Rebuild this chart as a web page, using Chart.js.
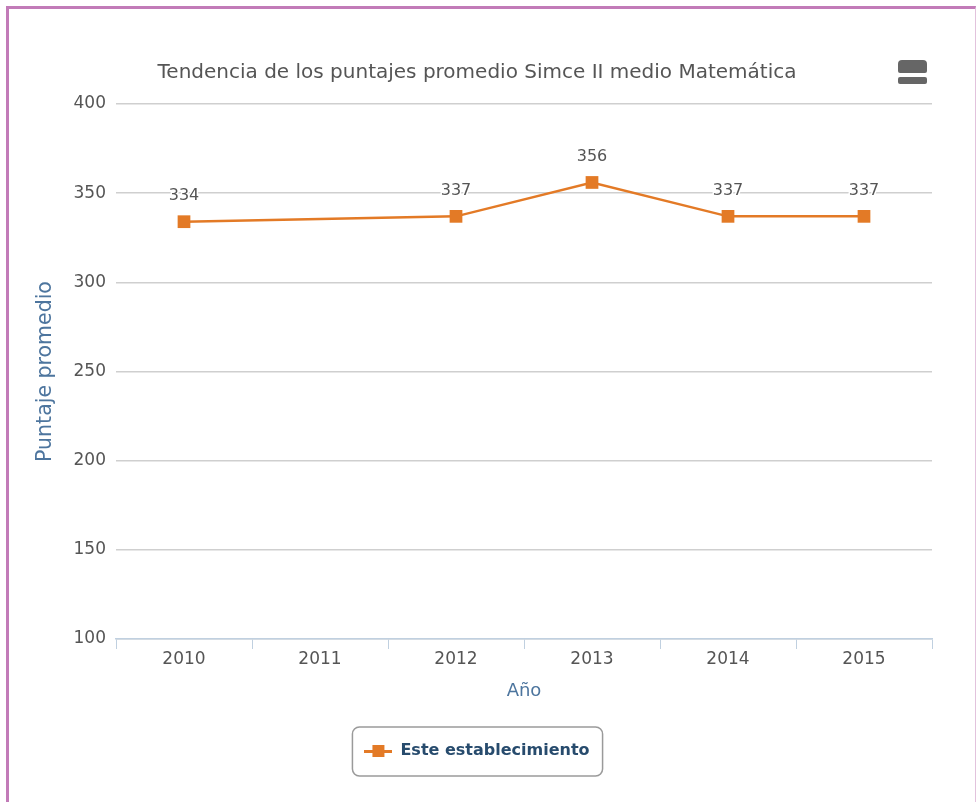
<!DOCTYPE html>
<html>
<head>
<meta charset="utf-8">
<script src="https://cdn.jsdelivr.net/npm/chart.js@4/dist/chart.umd.min.js"></script>
<style>
  html, body { margin: 0; padding: 0; background: #fff; }
  #wrap { position: relative; width: 976px; height: 802px; overflow: hidden; }
  #frame { position: absolute; left: 6px; top: 6px; right: 0; bottom: -10px;
           border-left: 3px solid #c27bb8; border-top: 3px solid #c27bb8;
           border-right: 1px solid #e2c3dd; pointer-events: none; }
  #menu1 { position: absolute; left: 898px; top: 60px; width: 29px; height: 13px;
           background: #666; border-radius: 4px 4px 2px 2px; }
  #menu2 { position: absolute; left: 898px; top: 77px; width: 29px; height: 7px;
           background: #666; border-radius: 2px; }
  canvas { position: absolute; left: 0; top: 0; }
</style>
</head>
<body>
<div id="wrap">
  <canvas id="chart" width="976" height="802"></canvas>
  <div id="frame"></div>
  <div id="menu1"></div>
  <div id="menu2"></div>
</div>
<script>
var years = ['2010', '2011', '2012', '2013', '2014', '2015'];
var puntajes = [334, null, 337, 356, 337, 337];
var serie_nombre = 'Este establecimiento';
var y_ticks = [100, 150, 200, 250, 300, 350, 400];

var naranja = '#e37a26';
var font_family = '"DejaVu Sans", Verdana, sans-serif';

// legend symbol: short line with a square in the middle
var legendIcon = document.createElement('canvas');
legendIcon.width = 28;
legendIcon.height = 14;
(function () {
  var c = legendIcon.getContext('2d');
  c.fillStyle = naranja;
  c.fillRect(0, 6, 28, 3);
  c.fillRect(8, 1, 12, 12);
})();

const valueLabels = {
  id: 'valueLabels',
  afterDatasetsDraw(chart) {
    const ctx = chart.ctx;
    const meta = chart.getDatasetMeta(0);
    ctx.save();
    ctx.font = '16px ' + font_family;
    ctx.textAlign = 'center';
    ctx.textBaseline = 'middle';
    ctx.lineJoin = 'round';
    meta.data.forEach(function (pt, i) {
      const v = puntajes[i];
      if (v === null) return;
      ctx.strokeStyle = '#fff';
      ctx.lineWidth = 3;
      ctx.strokeText(String(v), pt.x, pt.y - 26);
      ctx.fillStyle = '#555';
      ctx.fillText(String(v), pt.x, pt.y - 26);
    });
    ctx.restore();
  }
};

const legendBox = {
  id: 'legendBox',
  afterDraw(chart) {
    const lg = chart.legend;
    if (!lg || !lg.legendHitBoxes.length) return;
    const hb = lg.legendHitBoxes[0];
    const x = hb.left - 12, y = hb.top - 16, w = hb.width + 25, h = hb.height + 33;
    const ctx = chart.ctx;
    ctx.save();
    ctx.strokeStyle = '#9a9a9a';
    ctx.lineWidth = 1.5;
    ctx.beginPath();
    ctx.roundRect(x, y, w, h, 7);
    ctx.stroke();
    ctx.restore();
  }
};

const data = {
  labels: years,
  datasets: [{
    label: serie_nombre,
    data: puntajes,
    borderColor: naranja,
    backgroundColor: naranja,
    borderWidth: 2.5,
    pointStyle: 'rect',
    pointRadius: 9,
    pointHoverRadius: 9,
    pointBorderWidth: 0,
    spanGaps: true,
    tension: 0
  }]
};

const config = {
  type: 'line',
  data: data,
  options: {
    responsive: false,
    animation: false,
    layout: { padding: { left: 22, right: 44, top: 0, bottom: 33 } },
    scales: {
      x: {
        offset: true,
        grid: { offset: true, drawOnChartArea: false, drawTicks: true, tickLength: 10, color: '#c0d0e0' },
        border: { color: '#c0d0e0', width: 1.5 },
        ticks: { color: '#555', font: { family: font_family, size: 17 }, padding: 0 },
        title: { display: true, text: 'Año', color: '#4d759e', font: { family: font_family, size: 18 }, padding: { top: 11, bottom: 27 } }
      },
      y: {
        min: 100,
        max: 400,
        afterBuildTicks: function (scale) {
          scale.ticks = y_ticks.map(function (v) { return { value: v }; });
        },
        afterFit: function (scale) { scale.width = 94; },
        grid: { color: '#cfcfcf', lineWidth: 1.5, drawTicks: false },
        border: { display: false },
        ticks: { color: '#555', font: { family: font_family, size: 17 }, padding: 10 },
        title: { display: true, text: 'Puntaje promedio', color: '#4d759e', font: { family: font_family, size: 20.5 }, padding: { top: 11, bottom: 4 } }
      }
    },
    plugins: {
      title: {
        display: true,
        text: 'Tendencia de los puntajes promedio Simce II medio Matemática',
        color: '#555',
        font: { family: font_family, size: 20, weight: 'normal' },
        padding: { top: 61, bottom: 19 }
      },
      legend: {
        display: true,
        position: 'bottom',
        labels: {
          usePointStyle: true,
          pointStyle: legendIcon,
          pointStyleWidth: 28,
          color: '#274b6d',
          font: { family: font_family, size: 16, weight: 'bold' },
          padding: 14
        }
      },
      tooltip: { enabled: false }
    }
  },
  plugins: [valueLabels, legendBox]
};

const myChart = new Chart(document.getElementById('chart'), config);
</script>
</body>
</html>
